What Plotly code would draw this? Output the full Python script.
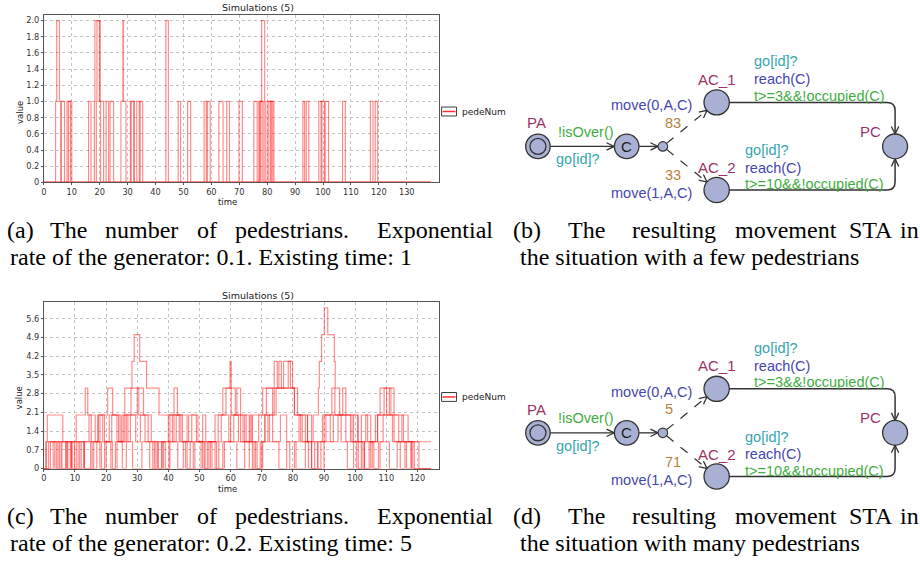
import plotly.graph_objects as go
import numpy as np

W, H = 920, 565

# ---------------- data: chart (a)  rate 0.1, existing time 1 ----------------
a1_t = [0, 4.2, 4.6, 5.6, 6.1, 18.1, 18.3, 19.9, 20.3, 31.0, 32.4, 48.1, 49.0, 65.5, 66.5, 77.3, 78.2, 92.8, 93.4, 107.0, 108.0, 138.6]
a1_v = [0, 1, 2, 1, 0, 1, 2, 1, 0, 1, 0, 1, 0, 1, 0, 1, 0, 1, 0, 1, 0, 0]
a2_t = [0, 6.2, 7.4, 18.8, 19.0, 20.2, 21.4, 33.3, 34.5, 57.4, 58.2, 75.2, 76.4, 80.0, 81.5, 98.5, 99.6, 118.7, 119.6, 138.6]
a2_v = [0, 1, 0, 1, 2, 1, 0, 1, 0, 1, 0, 1, 0, 1, 0, 1, 0, 1, 0, 0]
a3_t = [0, 8.3, 9.5, 22.3, 23.2, 31.3, 32.2, 51.5, 52.6, 69.9, 71.1, 80.6, 82.4, 99.3, 100.5, 138.6]
a3_v = [0, 1, 0, 1, 0, 1, 0, 1, 0, 1, 0, 1, 0, 1, 0, 0]
a4_t = [0, 8.8, 10.0, 23.7, 25.0, 34.2, 35.4, 58.6, 59.6, 77.0, 78.8, 81.2, 82.0, 100.8, 102.0, 138.6]
a4_v = [0, 1, 0, 1, 0, 1, 0, 1, 0, 1, 0, 1, 0, 1, 0, 0]
a5_t = [0, 16.0, 16.9, 27.6, 28.3, 28.5, 29.4, 43.7, 44.6, 62.7, 64.2, 77.6, 78.0, 79.1, 79.3, 94.0, 94.9, 117.0, 117.9, 138.6]
a5_v = [0, 1, 0, 1, 2, 1, 0, 2, 0, 1, 0, 1, 2, 1, 0, 1, 0, 1, 0, 0]

# ---------------- data: chart (c)  rate 0.2, existing time 5 ----------------
c1_t = [0, 0.6, 1.1, 6.1, 7.7, 8.5, 10.4, 13.3, 14.1, 15.2, 17.5, 20.5, 22.1, 24.0, 25.0, 26.0, 28.3, 29.0, 30.8, 33.0,
        37.0, 41.3, 42.5, 44.0, 45.5, 47.0, 51.0, 52.0, 54.0, 56.2, 57.0, 59.4, 62.0, 64.5, 67.0, 69.5, 71.0, 73.5, 75.5, 78.0,
        81.0, 84.0, 86.0, 89.0, 90.6, 100.8, 103.0, 105.0, 107.2, 112.0, 114.5, 116.0, 119.0, 124.4]
c1_v = [0, 1, 2, 1, 0, 1, 2, 3, 2, 1, 2, 3, 2, 1, 2, 3, 4, 5, 4, 3,
        2, 1, 2, 1, 0, 1, 2, 1, 0, 1, 2, 1, 0, 1, 0, 1, 2, 1, 0, 1,
        0, 1, 0, 1, 2, 1, 0, 1, 2, 1, 0, 1, 0, 0]
c2_t = [0, 1.5, 4.0, 5.5, 9.0, 11.0, 13.0, 15.0, 17.3, 18.9, 21.5, 23.0, 25.5, 27.0, 28.5, 31.5, 35.0, 36.5, 40.0, 41.8,
        42.9, 46.0, 48.0, 50.5, 55.0, 57.5, 60.0, 63.2, 66.3, 66.8, 68.0, 70.3, 72.0, 74.0, 80.5, 84.7, 86.5, 88.2, 88.5, 89.2,
        90.1, 91.2, 93.3, 93.6, 95.0, 99.0, 101.0, 103.0, 105.5, 108.0, 111.0, 113.5, 118.0, 124.4]
c2_v = [0, 1, 0, 1, 0, 1, 0, 1, 2, 1, 0, 1, 2, 1, 0, 1, 0, 1, 2, 3,
        2, 1, 0, 1, 0, 1, 2, 1, 2, 1, 0, 1, 2, 3, 2, 1, 2, 3, 4, 5,
        6, 5, 4, 3, 2, 1, 0, 1, 0, 1, 0, 1, 0, 0]
c3_t = [0, 2.1, 5.0, 7.0, 9.8, 10.4, 13.0, 16.0, 18.0, 19.5, 21.0, 24.5, 26.5, 29.5, 31.0, 33.5, 36.0, 38.0, 40.5, 43.5,
        46.5, 49.0, 51.5, 53.0, 56.0, 58.5, 60.2, 62.0, 63.2, 65.0, 67.0, 70.3, 73.5, 74.6, 75.5, 76.3, 77.0, 79.9, 81.5, 83.0,
        84.7, 86.0, 88.0, 90.0, 93.0, 95.5, 97.5, 99.5, 102.0, 104.0, 106.5, 109.3, 110.1, 112.5, 115.0, 117.0, 119.5, 124.4]
c3_v = [0, 1, 0, 1, 0, 1, 0, 1, 2, 1, 2, 1, 2, 1, 2, 1, 0, 1, 2, 1,
        2, 1, 0, 1, 2, 3, 2, 3, 2, 1, 2, 3, 2, 3, 4, 3, 4, 3, 2, 1,
        2, 1, 0, 1, 2, 1, 0, 1, 2, 1, 2, 3, 2, 1, 2, 1, 1, 1]
c4_t = [0, 3.0, 5.8, 7.5, 8.8, 12.0, 14.5, 16.5, 18.0, 19.5, 22.0, 23.5, 26.0, 28.0, 30.5, 32.5, 34.0, 35.5, 39.0, 40.2,
        41.8, 44.5, 46.0, 48.5, 51.0, 52.5, 55.0, 57.5, 59.8, 60.2, 61.5, 64.0, 66.0, 67.5, 69.0, 71.5, 74.0, 75.0, 78.5, 79.2,
        80.5, 82.5, 85.0, 87.0, 90.0, 92.0, 94.5, 96.0, 97.0, 98.5, 100.5, 102.0, 103.4, 105.0, 107.2, 108.0, 111.5, 114.0, 116.5, 118.0,
        120.5, 124.4]
c4_v = [0, 1, 0, 1, 0, 1, 2, 1, 0, 1, 0, 1, 2, 3, 2, 1, 0, 1, 0, 1,
        2, 1, 0, 1, 0, 1, 2, 3, 4, 3, 2, 1, 0, 1, 2, 3, 4, 3, 4, 3,
        2, 1, 0, 1, 2, 1, 2, 3, 2, 1, 0, 1, 2, 1, 2, 3, 2, 1, 0, 1,
        0, 0]
c5_t = [0, 0.8, 3.5, 4.5, 7.2, 9.0, 11.5, 12.8, 15.5, 17.0, 18.5, 20.0, 21.8, 23.5, 25.2, 26.5, 27.8, 30.0, 32.0, 34.5,
        36.8, 37.8, 38.4, 40.5, 43.0, 44.8, 47.5, 49.5, 51.8, 53.5, 55.5, 58.0, 61.0, 62.5, 64.5, 66.0, 68.5, 70.0, 71.0, 72.5,
        76.0, 78.0, 79.0, 80.5, 82.0, 84.0, 86.0, 88.0, 89.5, 92.5, 93.5, 97.0, 99.5, 101.0, 102.5, 104.5, 106.0, 107.5, 109.0, 111.0,
        112.5, 115.5, 118.5, 124.4]
c5_v = [0, 1, 0, 1, 0, 1, 0, 1, 0, 1, 0, 1, 2, 1, 0, 1, 2, 3, 2, 1,
        0, 1, 0, 1, 0, 1, 2, 1, 0, 1, 0, 1, 2, 1, 2, 1, 0, 1, 2, 1,
        2, 1, 0, 1, 2, 1, 0, 1, 2, 3, 2, 1, 2, 1, 0, 1, 0, 1, 2, 3,
        2, 1, 0, 0]

a_xticks = [0, 10, 20, 30, 40, 50, 60, 70, 80, 90, 100, 110, 120, 130]
a_yticks = [0, 0.2, 0.4, 0.6, 0.8, 1.0, 1.2, 1.4, 1.6, 1.8, 2.0]
a_ytext = ["0", "0.2", "0.4", "0.6", "0.8", "1.0", "1.2", "1.4", "1.6", "1.8", "2.0"]
c_xticks = [0, 10, 20, 30, 40, 50, 60, 70, 80, 90, 100, 110, 120]
c_yticks = [0, 0.7, 1.4, 2.1, 2.8, 3.5, 4.2, 4.9, 5.6]
c_ytext = ["0", "0.7", "1.4", "2.1", "2.8", "3.5", "4.2", "4.9", "5.6"]

series_name = "pedeNum"
chart_title = "Simulations (5)"
weights_b = ("83", "33")
weights_d = ("5", "71")

captions = {
    "a": (["(a)", "The", "number", "of", "pedestrians.", "Exponential"], "rate of the generator: 0.1. Existing time: 1"),
    "b": (["(b)", "The", "resulting", "movement", "STA", "in"], "the situation with a few pedestrians"),
    "c": (["(c)", "The", "number", "of", "pedestrians.", "Exponential"], "rate of the generator: 0.2. Existing time: 5"),
    "d": (["(d)", "The", "resulting", "movement", "STA", "in"], "the situation with many pedestrians"),
}

# ---------------- styling / layout helpers ----------------
RED = "rgba(255,0,0,0.45)"
TICKF = dict(family="DejaVu Sans", size=8.2, color="#333333")
SANS = "Liberation Sans"
SERIF = "Liberation Serif"
C_LOC = "#993366"
C_GUARD = "#3fae3f"
C_SYNC = "#35a6b0"
C_UPD = "#4646b0"
C_PROB = "#b5823c"
NODE_FILL = "#a8b1d3"
EDGE = "#333333"


def dx(a, b):
    return [a / W, b / W]


def dy(top, bottom):
    return [1 - bottom / H, 1 - top / H]


fig = go.Figure()

for t, v in [(a1_t, a1_v), (a2_t, a2_v), (a3_t, a3_v), (a4_t, a4_v), (a5_t, a5_v)]:
    fig.add_trace(go.Scatter(x=t, y=v, mode="lines", line=dict(shape="hv", color=RED, width=1.2),
                             xaxis="x", yaxis="y", hoverinfo="skip", showlegend=False))
for t, v in [(c1_t, c1_v), (c2_t, c2_v), (c3_t, c3_v), (c4_t, c4_v), (c5_t, c5_v)]:
    fig.add_trace(go.Scatter(x=t, y=v, mode="lines", line=dict(shape="hv", color=RED, width=1.2),
                             xaxis="x2", yaxis="y2", hoverinfo="skip", showlegend=False))
# overlay pixel axis
fig.add_trace(go.Scatter(x=[], y=[], xaxis="x3", yaxis="y3", showlegend=False))

axis_common = dict(showgrid=True, gridcolor="#c4c4c4", griddash="dot", gridwidth=1, zeroline=False,
                   showline=True, mirror=True, linecolor="#555555", linewidth=1,
                   ticks="outside", ticklen=2, tickcolor="#555555", tickfont=TICKF)

fig.update_layout(
    width=W, height=H, margin=dict(l=0, r=0, t=0, b=0),
    paper_bgcolor="white", plot_bgcolor="rgba(0,0,0,0)", showlegend=False,
    xaxis=dict(domain=dx(41, 437), range=[0, 141.4], tickvals=a_xticks, anchor="y", **axis_common),
    yaxis=dict(domain=dy(15, 184), range=[0, 2.07], tickvals=a_yticks, ticktext=a_ytext, anchor="x", **axis_common),
    xaxis2=dict(domain=dx(41, 437), range=[0, 126.8], tickvals=c_xticks, anchor="y2", **axis_common),
    yaxis2=dict(domain=dy(305, 472.7), range=[0, 6.21], tickvals=c_yticks, ticktext=c_ytext, anchor="x2", **axis_common),
    xaxis3=dict(domain=[0, 1], range=[0, W], visible=False, anchor="y3", fixedrange=True),
    yaxis3=dict(domain=[0, 1], range=[H, 0], visible=False, anchor="x3", fixedrange=True),
)

shapes = []
annos = []


def txt(x, y, s, color="#222222", size=14.5, family=SANS, xanchor="center", angle=0):
    annos.append(dict(x=x, y=y, xref="x3", yref="y3", text=s, showarrow=False, xanchor=xanchor, yanchor="middle",
                      font=dict(family=family, size=size, color=color), textangle=angle))


# chart decorations (titles, axis labels, legends)
for top in (True, False):
    txt(256, 8 if top else 298, chart_title, size=9.5, family="DejaVu Sans")
    txt(17, 113 if top else 401, "value", size=8.5, family="DejaVu Sans", angle=-90)
    txt(225, 204 if top else 493, "time", size=8.5, family="DejaVu Sans")
    ly = 112.5 if top else 400.5
    shapes.append(dict(type="rect", xref="x3", yref="y3", x0=440, x1=455, y0=ly - 4.5, y1=ly + 4.5,
                       line=dict(color="#404040", width=1), fillcolor="white", layer="above"))
    shapes.append(dict(type="line", xref="x3", yref="y3", x0=441, x1=454, y0=ly, y1=ly,
                       line=dict(color="#ff3030", width=1.5), layer="above"))
    txt(458, ly, series_name, size=9, family="DejaVu Sans", xanchor="left")


def chevron(tip, direction, length=8.5, spread=0.45):
    d = np.array(direction, dtype=float)
    d = d / np.linalg.norm(d)
    ang = np.arctan2(d[1], d[0])
    p1 = (tip[0] - length * np.cos(ang - spread), tip[1] - length * np.sin(ang - spread))
    p2 = (tip[0] - length * np.cos(ang + spread), tip[1] - length * np.sin(ang + spread))
    shapes.append(dict(type="path", xref="x3", yref="y3",
                       path=f"M {p1[0]:.2f},{p1[1]:.2f} L {tip[0]:.2f},{tip[1]:.2f} L {p2[0]:.2f},{p2[1]:.2f}",
                       line=dict(color=EDGE, width=1.3), layer="above"))


def circle(cx, cy, r, fill=NODE_FILL, width=1.3):
    shapes.append(dict(type="circle", xref="x3", yref="y3", x0=cx - r, x1=cx + r, y0=cy - r, y1=cy + r,
                       fillcolor=fill, line=dict(color=EDGE, width=width), layer="above"))


def line(x0, y0, x1, y1, dash="solid", width=1.3):
    shapes.append(dict(type="line", xref="x3", yref="y3", x0=x0, y0=y0, x1=x1, y1=y1,
                       line=dict(color=EDGE, width=width, dash=dash), layer="above"))


def sta(oy, weights):
    PA = (536.7, 147.7 + oy)
    C = (625.7, 147.7 + oy)
    B = (662.0, 147.7 + oy)
    A1 = (716.0, 103.3 + oy)
    A2 = (716.0, 191.7 + oy)
    PC = (895.0, 147.7 + oy)
    R = 12.5
    # edges
    line(PA[0] + R, PA[1], C[0] - R, C[1])
    chevron((C[0] - R, C[1]), (1, 0))
    line(C[0] + R, C[1], B[0] - 4.8, B[1])
    chevron((B[0] - 4.8, B[1]), (1, 0))
    for A in (A1, A2):
        d = np.array([A[0] - B[0], A[1] - B[1]])
        u = d / np.linalg.norm(d)
        s = (B[0] + 4.8 * u[0], B[1] + 4.8 * u[1])
        e = (A[0] - R * u[0], A[1] - R * u[1])
        line(s[0], s[1], e[0], e[1], dash="dash", width=1.2)
        chevron(e, u)
    shapes.append(dict(type="path", xref="x3", yref="y3",
                       path=f"M {A1[0]+R},{A1[1]} L {PC[0]-8},{A1[1]} Q {PC[0]},{A1[1]} {PC[0]},{A1[1]+8} L {PC[0]},{PC[1]-R}",
                       line=dict(color=EDGE, width=1.5), layer="above"))
    chevron((PC[0], PC[1] - R), (0, 1))
    shapes.append(dict(type="path", xref="x3", yref="y3",
                       path=f"M {A2[0]+R},{A2[1]} L {PC[0]-8},{A2[1]} Q {PC[0]},{A2[1]} {PC[0]},{A2[1]-8} L {PC[0]},{PC[1]+R}",
                       line=dict(color=EDGE, width=1.5), layer="above"))
    chevron((PC[0], PC[1] + R), (0, -1))
    # nodes
    circle(PA[0], PA[1], 12.3)
    circle(PA[0], PA[1], 8.0)
    circle(C[0], C[1], 12.3)
    circle(B[0], B[1], 4.8, width=1.1)
    circle(A1[0], A1[1], 12.7)
    circle(A2[0], A2[1], 12.7)
    circle(PC[0], PC[1], 12.5)
    txt(C[0], C[1], "C", color="#1a1a1a", size=15)
    # labels
    txt(535.7, 124 + oy, "PA", color=C_LOC, size=15)
    txt(716, 80 + oy, "AC_1", color=C_LOC, size=15)
    txt(716.5, 169.3 + oy, "AC_2", color=C_LOC, size=15)
    txt(870, 132.3 + oy, "PC", color=C_LOC, size=15)
    txt(584.5, 133 + oy, "!isOver()", color=C_GUARD)
    txt(576.5, 160.7 + oy, "go[id]?", color=C_SYNC)
    txt(650.7, 106 + oy, "move(0,A,C)", color=C_UPD)
    txt(662, 124 + oy, weights[0], color=C_PROB, xanchor="left")
    txt(662, 176.7 + oy, weights[1], color=C_PROB, xanchor="left")
    txt(650.7, 195 + oy, "move(1,A,C)", color=C_UPD)
    txt(751.7, 61.7 + oy, "go[id]?", color=C_SYNC, xanchor="left")
    txt(751.7, 80 + oy, "reach(C)", color=C_UPD, xanchor="left")
    txt(751.7, 96.7 + oy, "t>=3&&!occupied(C)", color=C_GUARD, xanchor="left")
    txt(742.3, 151.7 + oy, "go[id]?", color=C_SYNC, xanchor="left")
    txt(742.3, 169.3 + oy, "reach(C)", color=C_UPD, xanchor="left")
    txt(742.3, 186 + oy, "t>=10&&!occupied(C)", color=C_GUARD, xanchor="left")


sta(0, weights_b)
sta(289, weights_d)

# captions (first line justified -> words placed at measured centres)
left_centres = [18, 66, 138.5, 205, 290, 433]
right_centres = [526, 585, 673.5, 785.5, 871, 909]
for key, centres, x2, oy in [("a", left_centres, 5, 0), ("b", right_centres, 517, 0),
                             ("c", left_centres, 5, 289), ("d", right_centres, 517, 289)]:
    words, second = captions[key]
    for w, cx in zip(words, centres):
        txt(cx, 232 + oy, w, color="black", size=24, family=SERIF)
    txt(x2, 259 + oy, second, color="black", size=24, family=SERIF, xanchor="left")

fig.update_layout(shapes=shapes, annotations=annos)
fig.write_html("out.html", config={"displayModeBar": False},
               post_script="document.body.style.margin='0px';document.body.style.overflow='hidden';")
